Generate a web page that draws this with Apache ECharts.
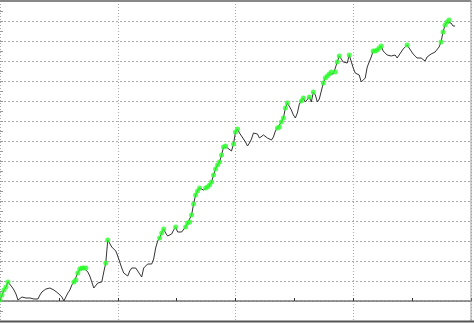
<!DOCTYPE html>
<html>
<head>
<meta charset="utf-8">
<script src="https://cdn.jsdelivr.net/npm/echarts@6/dist/echarts.min.js"></script>
<style>
html,body{margin:0;padding:0;background:#fff;}
#chart{width:474px;height:323px;}
</style>
</head>
<body>
<div id="chart"></div>
<script>
// Equity curve sampled per trade (trade index = position in array)
const equity = [
  50,300,550,700,950,850,700,550,350,50,
  0,200,150,150,100,150,50,100,100,100,
  300,450,450,600,700,650,550,550,500,400,
  300,200,0,100,400,550,800,950,1050,1400,
  1600,1650,1650,1650,1450,1250,950,650,700,900,
  900,950,1450,1900,3050,2950,2700,2600,2500,2250,
  1950,1650,1400,1400,1250,1500,1650,1650,1650,1500,
  1350,1200,1650,1700,1850,1800,1850,2100,2650,3000,
  3150,3400,3600,3400,3250,3150,3350,3550,3700,3450,
  3450,3450,3500,3700,3900,3950,4300,4850,5300,5500,
  5650,5600,5550,5650,5700,5800,5950,6300,6600,6800,
  6950,7300,7700,7750,7650,7600,7500,7850,8450,8600,
  8400,8250,8100,7950,7750,7900,8100,8400,8350,8350,
  8150,8200,8300,8200,8150,8200,8050,8200,8500,8650,
  8700,8950,9150,9650,9900,9800,9550,9300,9150,9400,
  9850,10000,10150,9950,9950,10200,9950,10450,10300,9950,
  10100,10150,10900,11150,11250,11350,11450,11350,11450,11950,
  12250,12150,11950,12050,11900,12300,12200,11650,11400,11400,
  11300,10950,10850,11150,11700,11950,12200,12500,12500,12550,
  12650,12750,12500,12400,12300,12350,12250,12250,12300,12150,
  12200,12450,12600,12700,12800,12650,12550,12350,12250,12150,
  12050,12150,12150,12000,12200,12300,12350,12350,12450,12550,
  12700,12950,13450,13800,13950,14050,13900,13750,13750
];
const xMin = 0, xMax = 236, xStep = 59;
const yMin = -1000, yMax = 15000, yStep = 1000;

const lineData = equity.map((v, i) => [i, v]);
// markers at new equity highs
const highData = [];
let runMax = -Infinity;
equity.forEach((v, i) => {
  if (v >= runMax) { runMax = v; highData.push([i, v]); }
});

const chart = echarts.init(document.getElementById('chart'), null, {renderer: 'canvas'});
chart.setOption({
  animation: false,
  backgroundColor: '#ffffff',
  grid: {left: 0, right: 3, top: 1, bottom: 2, containLabel: false},
  xAxis: {
    type: 'value', min: xMin, max: xMax, interval: xStep,
    axisLine: {show: true, onZero: true, lineStyle: {color: '#777', width: 1.5}},
    axisTick: {show: true, inside: true, length: 3, lineStyle: {color: '#333'}},
    minorTick: {show: true, splitNumber: 2, length: 3, lineStyle: {color: '#333'}},
    axisLabel: {show: false},
    splitLine: {show: true, lineStyle: {color: '#aaa', type: [1, 2], width: 1}},
    minorSplitLine: {show: false}
  },
  yAxis: {
    type: 'value', min: yMin, max: yMax, interval: yStep,
    axisLine: {show: false},
    axisTick: {show: true, inside: true, length: 3, lineStyle: {color: '#999'}},
    minorTick: {show: true, splitNumber: 2, length: 3, lineStyle: {color: '#999'}},
    axisLabel: {show: false},
    splitLine: {show: true, lineStyle: {color: '#aaa', type: [2, 2], width: 1}}
  },
  series: [
    {
      type: 'line', data: lineData, showSymbol: false, symbol: 'none',
      lineStyle: {color: '#333', width: 1}, z: 2
    },
    {
      type: 'scatter', data: highData, symbol: 'circle', symbolSize: 5,
      itemStyle: {color: '#2bff2b'}, z: 3
    }
  ],
  graphic: [
    {type: 'line', shape: {x1: 0, y1: 1, x2: 471, y2: 1}, style: {stroke: '#888', lineWidth: 2}, z: 10},
    {type: 'line', shape: {x1: 471, y1: 0, x2: 471, y2: 322}, style: {stroke: '#999', lineWidth: 1}, z: 10},
    {type: 'line', shape: {x1: 0, y1: 321.5, x2: 474, y2: 321.5}, style: {stroke: '#555', lineWidth: 2}, z: 10}
  ]
});
</script>
</body>
</html>
